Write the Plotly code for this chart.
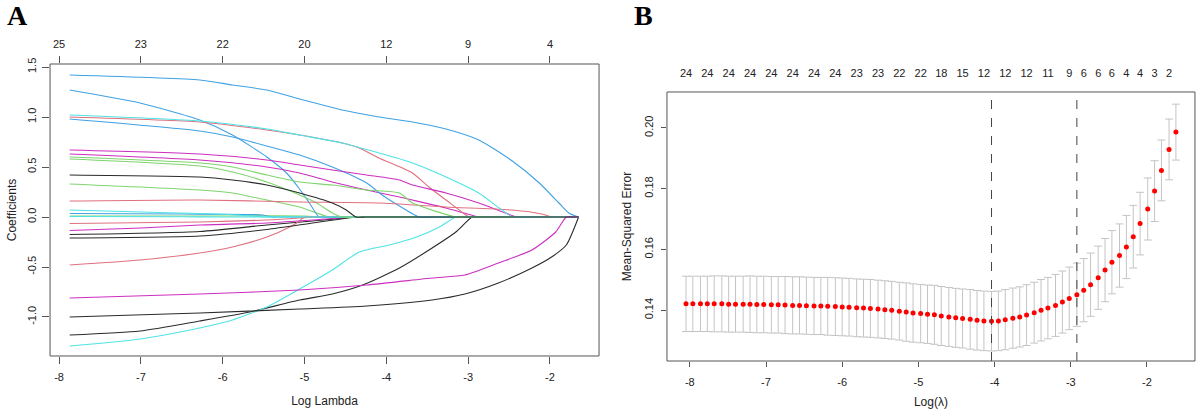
import plotly.graph_objects as go

# ---- panel A: lasso coefficient paths (log lambda, coefficient) ----
# grouped by the R palette colour they are drawn with (matplot col = 1:6)
black_paths = [
    ([-7.87, -6.28, -5.46, -4.90, -4.37, -4.25, -1.65], [-0.175, -0.145, -0.08, -0.04, 0.0, 0.0, 0.0]),
    ([-7.87, -6.28, -5.46, -4.90, -4.37, -4.25, -1.65], [-0.21, -0.19, -0.125, -0.06, 0.0, 0.0, 0.0]),
    ([-7.87, -7.01, -6.28, -5.67, -5.06, -4.66, -4.29, -3.84, -3.44, -3.15, -2.95, -2.85, -1.65],
     [-1.18, -1.14, -1.04, -0.95, -0.83, -0.77, -0.68, -0.51, -0.31, -0.15, 0.0, 0.0, 0.0]),
    ([-7.87, -6.28, -5.06, -4.24, -3.44, -3.04, -2.63, -2.22, -1.98, -1.80, -1.65],
     [-1.00, -0.96, -0.92, -0.89, -0.83, -0.77, -0.66, -0.51, -0.40, -0.28, 0.0]),
    ([-7.87, -6.28, -5.88, -5.46, -5.06, -4.66, -4.49, -4.37, -4.25, -1.65],
     [0.42, 0.40, 0.37, 0.32, 0.24, 0.14, 0.07, 0.0, 0.0, 0.0]),
]
pink_paths = [
    ([-7.87, -7.01, -6.28, -5.88, -5.46, -5.18, -5.06, -5.00, -4.90, -1.65],
     [-0.48, -0.43, -0.36, -0.30, -0.20, -0.10, -0.04, 0.0, 0.0, 0.0]),
    ([-7.87, -6.28, -5.46, -5.06, -4.90, -4.80, -1.65], [-0.065, -0.05, -0.03, -0.01, 0.0, 0.0, 0.0]),
    ([-7.87, -6.28, -5.46, -5.06, -4.54, -4.33, -4.09, -3.68, -3.48, -3.27, -3.06, -2.99, -2.90, -1.65],
     [1.00, 0.95, 0.87, 0.82, 0.74, 0.69, 0.59, 0.44, 0.30, 0.17, 0.04, 0.0, 0.0, 0.0]),
    ([-7.87, -6.28, -5.06, -4.09, -3.27, -2.46, -2.10, -1.98, -1.90, -1.65],
     [0.16, 0.17, 0.15, 0.14, 0.10, 0.07, 0.03, 0.0, 0.0, 0.0]),
]
green_paths = [
    ([-7.87, -6.00, -5.00, -4.82, -4.72, -1.65], [0.01, 0.01, 0.01, 0.0, 0.0, 0.0]),
    ([-7.87, -6.28, -5.88, -5.46, -5.06, -4.85, -4.70, -4.60, -1.65],
     [0.33, 0.27, 0.24, 0.17, 0.10, 0.04, 0.0, 0.0, 0.0]),
    ([-7.87, -6.28, -5.88, -5.46, -5.06, -4.85, -4.66, -4.54, -4.44, -1.65],
     [0.58, 0.51, 0.45, 0.35, 0.22, 0.14, 0.04, 0.0, 0.0, 0.0]),
    ([-7.87, -6.28, -5.88, -5.46, -5.06, -4.66, -4.24, -3.84, -3.68, -3.15, -3.05, -1.65],
     [0.60, 0.54, 0.50, 0.42, 0.35, 0.32, 0.27, 0.24, 0.14, 0.0, 0.0, 0.0]),
]
blue_paths = [
    ([-7.87, -6.50, -5.51, -5.40, -5.30, -1.65], [0.035, 0.03, 0.02, 0.0, 0.0, 0.0]),
    ([-7.87, -7.01, -6.28, -5.88, -5.46, -5.22, -5.06, -4.94, -4.82, -4.72, -1.65],
     [1.27, 1.14, 0.97, 0.82, 0.60, 0.44, 0.28, 0.14, 0.0, 0.0, 0.0]),
    ([-7.87, -6.28, -5.88, -5.46, -5.06, -4.66, -4.24, -4.05, -3.84, -3.60, -3.50, -1.65],
     [0.98, 0.86, 0.80, 0.71, 0.62, 0.50, 0.34, 0.22, 0.11, 0.0, 0.0, 0.0]),
    ([-7.87, -6.28, -5.88, -5.46, -5.06, -4.54, -4.09, -3.68, -3.27, -2.87, -2.46, -2.13, -1.89, -1.77, -1.65],
     [1.42, 1.37, 1.32, 1.27, 1.18, 1.07, 1.00, 0.95, 0.88, 0.77, 0.56, 0.34, 0.14, 0.04, 0.0]),
]
cyan_paths = [
    ([-7.87, -7.00, -6.28, -5.80, -5.50, -5.40, -1.65], [0.07, 0.05, 0.035, 0.02, 0.0, 0.0, 0.0]),
    ([-7.87, -6.50, -6.00, -5.90, -1.65], [0.005, 0.003, 0.0, 0.0, 0.0]),
    ([-7.87, -7.01, -6.28, -5.88, -5.46, -5.06, -4.66, -4.33, -3.96, -3.63, -3.35, -3.15, -3.05, -1.65],
     [-1.29, -1.22, -1.11, -1.03, -0.90, -0.72, -0.53, -0.35, -0.28, -0.20, -0.10, 0.0, 0.0, 0.0]),
    ([-7.87, -6.28, -5.46, -5.06, -4.54, -4.09, -3.68, -3.27, -2.87, -2.62, -2.46, -2.36, -1.65],
     [1.02, 0.96, 0.88, 0.82, 0.74, 0.64, 0.54, 0.40, 0.24, 0.09, 0.0, 0.0, 0.0]),
]
magenta_paths = [
    ([-7.87, -7.00, -6.28, -5.46, -4.90, -4.37, -4.27, -1.65],
     [-0.135, -0.11, -0.08, -0.06, -0.03, 0.0, 0.0, 0.0]),
    ([-7.87, -6.28, -5.46, -5.06, -4.66, -4.24, -3.84, -3.68, -3.27, -2.87, -2.77, -1.65],
     [0.63, 0.57, 0.50, 0.44, 0.35, 0.27, 0.20, 0.17, 0.09, 0.0, 0.0, 0.0]),
    ([-7.87, -6.28, -5.46, -5.06, -4.66, -4.24, -3.84, -3.68, -3.27, -2.87, -2.40, -2.30, -1.65],
     [0.67, 0.63, 0.57, 0.52, 0.47, 0.42, 0.37, 0.32, 0.24, 0.14, 0.0, 0.0, 0.0]),
    ([-7.87, -6.28, -5.06, -4.24, -3.44, -3.04, -2.63, -2.22, -1.93, -1.80, -1.72, -1.65],
     [-0.81, -0.77, -0.73, -0.68, -0.61, -0.58, -0.46, -0.33, -0.15, 0.0, 0.0, 0.0]),
]
a_ticks = [-8, -7, -6, -5, -4, -3, -2]
a_top_df = ["25", "23", "22", "20", "12", "9", "4"]

# ---- panel B: 10-fold CV curve ----
cv_log_lambda = [
    -8.05, -7.96, -7.86, -7.77, -7.68, -7.58, -7.49, -7.40, -7.30, -7.21,
    -7.12, -7.03, -6.93, -6.84, -6.75, -6.65, -6.56, -6.47, -6.37, -6.28,
    -6.19, -6.09, -6.00, -5.91, -5.81, -5.72, -5.63, -5.53, -5.44, -5.35,
    -5.25, -5.16, -5.07, -4.97, -4.88, -4.79, -4.70, -4.60, -4.51, -4.42,
    -4.32, -4.23, -4.14, -4.04, -3.95, -3.86, -3.76, -3.67, -3.58, -3.48,
    -3.39, -3.30, -3.20, -3.11, -3.02, -2.92, -2.83, -2.74, -2.64, -2.55,
    -2.46, -2.36, -2.27, -2.18, -2.09, -1.99, -1.90, -1.81, -1.71, -1.62,
]
cv_mse = [
    0.1421, 0.1421, 0.1421, 0.1421, 0.1421, 0.1421, 0.1420, 0.1420, 0.1420, 0.1420,
    0.1419, 0.1419, 0.1418, 0.1418, 0.1417, 0.1416, 0.1416, 0.1415, 0.1414, 0.1414,
    0.1413, 0.1412, 0.1411, 0.1410, 0.1408, 0.1407, 0.1406, 0.1404, 0.1402, 0.1400,
    0.1397, 0.1394, 0.1391, 0.1389, 0.1387, 0.1385, 0.1381, 0.1378, 0.1375, 0.1373,
    0.1370, 0.1367, 0.1365, 0.1364, 0.1365, 0.1369, 0.1374, 0.1378, 0.1384, 0.1392,
    0.1400, 0.1407, 0.1416, 0.1427, 0.1439, 0.1451, 0.1466, 0.1484, 0.1507, 0.1532,
    0.1558, 0.1580, 0.1608, 0.1642, 0.1685, 0.1733, 0.1792, 0.1860, 0.1929, 0.1986,
]
cv_sd = [
    0.0091, 0.0091, 0.0091, 0.0091, 0.0092, 0.0092, 0.0092, 0.0092, 0.0092, 0.0093,
    0.0093, 0.0093, 0.0093, 0.0093, 0.0094, 0.0094, 0.0094, 0.0094, 0.0094, 0.0094,
    0.0095, 0.0095, 0.0095, 0.0095, 0.0095, 0.0095, 0.0095, 0.0095, 0.0095, 0.0095,
    0.0095, 0.0096, 0.0096, 0.0096, 0.0096, 0.0097, 0.0097, 0.0097, 0.0097, 0.0097,
    0.0098, 0.0098, 0.0098, 0.0098, 0.0098, 0.0099, 0.0099, 0.0099, 0.0100, 0.0100,
    0.0101, 0.0101, 0.0102, 0.0102, 0.0103, 0.0104, 0.0104, 0.0104, 0.0104, 0.0104,
    0.0104, 0.0104, 0.0104, 0.0103, 0.0103, 0.0102, 0.0100, 0.0100, 0.0100, 0.0092,
]
# number of non-zero coefficients, shown above some of the lambdas
cv_nz_index = [0, 3, 6, 9, 12, 15, 18, 21, 24, 27, 30, 33, 36, 39, 42, 45, 48, 51, 54,
               56, 58, 60, 62, 64, 66, 68]
cv_nz_label = ["24", "24", "24", "24", "24", "24", "24", "24", "23", "23", "22", "22", "18",
               "15", "12", "12", "12", "11", "9", "6", "6", "6", "4", "4", "3", "2"]
b_ticks = [-8, -7, -6, -5, -4, -3, -2]
b_yticks = [0.14, 0.16, 0.18, 0.20]

PAL = ["#2b2b2b", "#E0707F", "#7FD46E", "#3FA2E4", "#4FE3E6", "#CC2FC0"]
FONT = "Liberation Sans, Arial, sans-serif"


def main():
    fig = go.Figure()

    groups = [black_paths, pink_paths, green_paths, blue_paths, cyan_paths, magenta_paths]
    n = max(len(g) for g in groups)
    for j in range(n):
        for c, grp in enumerate(groups):
            if j < len(grp):
                xs, ys = grp[j]
                fig.add_trace(go.Scatter(
                    x=xs, y=ys, mode="lines",
                    line=dict(color=PAL[c], width=1.1, shape="spline", smoothing=0.6),
                    xaxis="x", yaxis="y", showlegend=False, hoverinfo="skip"))

    # invisible carriers so the two top (df) axes get drawn
    fig.add_trace(go.Scatter(x=a_ticks, y=[0] * len(a_ticks), mode="markers",
                             marker=dict(opacity=0), xaxis="x3", yaxis="y",
                             showlegend=False, hoverinfo="skip"))
    fig.add_trace(go.Scatter(x=cv_log_lambda, y=cv_mse, mode="markers",
                             marker=dict(opacity=0), xaxis="x4", yaxis="y2",
                             showlegend=False, hoverinfo="skip"))

    fig.add_trace(go.Scatter(
        x=cv_log_lambda, y=cv_mse, mode="markers",
        marker=dict(color="red", size=5),
        error_y=dict(type="data", array=cv_sd, color="#c4c4c4", thickness=1, width=4),
        xaxis="x2", yaxis="y2", showlegend=False))

    # lambda.min and lambda.1se from the cv curve
    i_min = cv_mse.index(min(cv_mse))
    thr = cv_mse[i_min] + cv_sd[i_min]
    i_1se = max(i for i in range(len(cv_mse)) if i >= i_min and cv_mse[i] <= thr)
    for i in (i_min, i_1se):
        fig.add_shape(type="line", xref="x2", yref="y2 domain",
                      x0=cv_log_lambda[i], x1=cv_log_lambda[i], y0=0, y1=1,
                      line=dict(color="#444", width=1, dash="dash"))

    for xr, yr in (("x domain", "y domain"), ("x2 domain", "y2 domain")):
        fig.add_shape(type="rect", xref=xr, yref=yr, x0=0, x1=1, y0=0, y1=1,
                      line=dict(color="#555", width=1))

    tick_font = dict(family=FONT, size=11, color="#222")
    base = dict(showgrid=False, zeroline=False, showline=False, ticks="outside",
                tickcolor="#555", tickfont=tick_font, automargin=False)

    fig.update_layout(
        width=1200, height=414,
        margin=dict(l=0, r=0, t=0, b=0),
        paper_bgcolor="white", plot_bgcolor="white",
        font=dict(family=FONT, size=11, color="#222"),
        xaxis=dict(base, domain=[0.0417, 0.4992], anchor="y", range=[-8.11, -1.40],
                   tickvals=a_ticks, ticktext=[str(t) for t in a_ticks], ticklen=7,
                   ticklabelstandoff=4,
                   title=dict(text="Log Lambda", font=dict(size=12), standoff=14)),
        yaxis=dict(base, domain=[0.1401, 0.8454], anchor="x", range=[-1.39, 1.53],
                   tickvals=[-1.0, -0.5, 0.0, 0.5, 1.0, 1.5],
                   ticktext=["-1.0", "-0.5", "0.0", "0.5", "1.0", "1.5"],
                   tickangle=-90, ticklen=7, ticklabelstandoff=2,
                   title=dict(text="Coefficients", font=dict(size=12), standoff=6)),
        xaxis3=dict(base, overlaying="x", anchor="y", side="top", range=[-8.11, -1.40],
                    tickvals=a_ticks, ticktext=a_top_df, ticklen=7, ticklabelstandoff=4),
        xaxis2=dict(base, domain=[0.5558, 0.9958], anchor="y2", range=[-8.30, -1.37],
                    tickvals=b_ticks, ticktext=[str(t) for t in b_ticks], ticklen=5,
                    ticklabelstandoff=6,
                    title=dict(text="Log(\u03bb)", font=dict(size=12), standoff=10)),
        yaxis2=dict(base, domain=[0.1280, 0.7778], anchor="x2", range=[0.1233, 0.2118],
                    tickvals=b_yticks, ticktext=["%.2f" % v for v in b_yticks],
                    tickangle=-90, ticklen=5, ticklabelstandoff=4,
                    title=dict(text="Mean-Squared Error", font=dict(size=12), standoff=8)),
        xaxis4=dict(base, overlaying="x2", anchor="y2", side="top", range=[-8.30, -1.37],
                    tickvals=[cv_log_lambda[i] for i in cv_nz_index], ticktext=cv_nz_label,
                    ticks="", ticklabelstandoff=12),
        annotations=[
            dict(text="<b>A</b>", x=0.004, y=1.006, xref="paper", yref="paper",
                 xanchor="left", yanchor="top", showarrow=False,
                 font=dict(family="Liberation Serif, Times New Roman, serif", size=28, color="black")),
            dict(text="<b>B</b>", x=0.527, y=1.006, xref="paper", yref="paper",
                 xanchor="left", yanchor="top", showarrow=False,
                 font=dict(family="Liberation Serif, Times New Roman, serif", size=28, color="black")),
        ],
    )
    # page body has an 8px default margin; drop it so the figure sits at the window corner
    fig.write_html("out.html", config={"displayModeBar": False},
                   post_script="document.body.style.margin='0';")


if __name__ == "__main__":
    main()
